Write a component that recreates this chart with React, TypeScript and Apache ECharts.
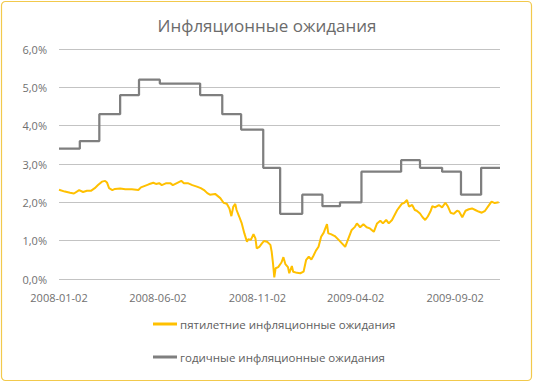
import React, { useEffect, useRef } from "react";
import * as echarts from "echarts";

const TITLE = "Инфляционные ожидания";
const START_DATE = "2008-01-02";
const END_DATE = "2009-11-10";
const xTickLabels = ["2008-01-02", "2008-06-02", "2008-11-02", "2009-04-02", "2009-09-02"];
const yTicks = [0, 1, 2, 3, 4, 5, 6];

const fiveYearName = "пятилетние инфляционные ожидания";
const oneYearName = "годичные инфляционные ожидания";

// Five-year inflation expectations (%)
const fiveYearDates = [
  "2008-01-02", "2008-01-11", "2008-01-19", "2008-01-25", "2008-02-02", "2008-02-08", "2008-02-14", "2008-02-20",
  "2008-02-26", "2008-03-02", "2008-03-08", "2008-03-13", "2008-03-16", "2008-03-19", "2008-03-24", "2008-03-28",
  "2008-04-05", "2008-04-13", "2008-04-23", "2008-05-03", "2008-05-07", "2008-05-13", "2008-05-19", "2008-05-26",
  "2008-05-30", "2008-06-04", "2008-06-08", "2008-06-15", "2008-06-21", "2008-06-25", "2008-07-02", "2008-07-08",
  "2008-07-12", "2008-07-18", "2008-07-25", "2008-08-01", "2008-08-07", "2008-08-12", "2008-08-17", "2008-08-21",
  "2008-08-29", "2008-09-06", "2008-09-11", "2008-09-16", "2008-09-20", "2008-09-23", "2008-09-26", "2008-09-29",
  "2008-10-01", "2008-10-05", "2008-10-09", "2008-10-13", "2008-10-17", "2008-10-19", "2008-10-23", "2008-10-27",
  "2008-10-30", "2008-11-01", "2008-11-05", "2008-11-09", "2008-11-12", "2008-11-17", "2008-11-22", "2008-11-24",
  "2008-11-26", "2008-11-28", "2008-11-30", "2008-12-04", "2008-12-09", "2008-12-12", "2008-12-15", "2008-12-19",
  "2008-12-21", "2008-12-25", "2008-12-27", "2009-01-02", "2009-01-07", "2009-01-12", "2009-01-16", "2009-01-20",
  "2009-01-24", "2009-01-27", "2009-01-31", "2009-02-04", "2009-02-08", "2009-02-12", "2009-02-14", "2009-02-17",
  "2009-02-19", "2009-02-23", "2009-03-01", "2009-03-07", "2009-03-12", "2009-03-17", "2009-03-22", "2009-03-27",
  "2009-04-01", "2009-04-04", "2009-04-09", "2009-04-14", "2009-04-19", "2009-04-24", "2009-04-30", "2009-05-05",
  "2009-05-10", "2009-05-14", "2009-05-19", "2009-05-23", "2009-05-28", "2009-06-01", "2009-06-05", "2009-06-08",
  "2009-06-12", "2009-06-16", "2009-06-20", "2009-06-23", "2009-06-28", "2009-07-02", "2009-07-05", "2009-07-10",
  "2009-07-14", "2009-07-18", "2009-07-22", "2009-07-26", "2009-07-29", "2009-08-02", "2009-08-08", "2009-08-13",
  "2009-08-18", "2009-08-22", "2009-08-26", "2009-08-31", "2009-09-05", "2009-09-08", "2009-09-13", "2009-09-18",
  "2009-09-23", "2009-09-28", "2009-10-03", "2009-10-08", "2009-10-13", "2009-10-18", "2009-10-23", "2009-10-28",
  "2009-11-02", "2009-11-08",
];
const fiveYearValues = [
  2.33, 2.28, 2.25, 2.23, 2.32, 2.27, 2.30, 2.30,
  2.37, 2.45, 2.54, 2.56, 2.51, 2.37, 2.32, 2.35,
  2.36, 2.34, 2.34, 2.32, 2.39, 2.43, 2.47, 2.51,
  2.48, 2.50, 2.45, 2.50, 2.50, 2.45, 2.51, 2.56,
  2.50, 2.50, 2.45, 2.41, 2.37, 2.32, 2.24, 2.20,
  2.22, 2.11, 1.99, 1.96, 1.84, 1.64, 1.89, 1.96,
  1.80, 1.63, 1.45, 1.19, 0.97, 1.04, 1.02, 1.17,
  1.06, 0.80, 0.84, 0.93, 0.99, 0.97, 0.89, 0.71,
  0.41, 0.04, 0.28, 0.31, 0.43, 0.57, 0.39, 0.31,
  0.15, 0.34, 0.19, 0.16, 0.15, 0.19, 0.50, 0.58,
  0.51, 0.60, 0.74, 0.84, 1.10, 1.21, 1.30, 1.43,
  1.19, 1.17, 1.12, 1.02, 0.93, 0.84, 1.06, 1.28,
  1.36, 1.45, 1.35, 1.43, 1.35, 1.32, 1.23, 1.45,
  1.52, 1.45, 1.54, 1.45, 1.54, 1.67, 1.80, 1.87,
  1.96, 1.99, 2.06, 1.89, 1.93, 1.80, 1.78, 1.71,
  1.61, 1.54, 1.63, 1.76, 1.90, 1.87, 1.93, 1.87,
  1.99, 1.89, 1.73, 1.70, 1.78, 1.76, 1.61, 1.78,
  1.82, 1.84, 1.80, 1.76, 1.73, 1.78, 1.90, 2.02,
  1.98, 2.00,
];

// One-year inflation expectations (%): dates where the level changes
const oneYearDates = [
  "2008-01-02", "2008-02-03", "2008-03-04", "2008-04-05", "2008-05-04", "2008-06-05", "2008-08-06",
  "2008-09-09", "2008-10-08", "2008-11-11", "2008-12-07", "2009-01-10", "2009-02-10", "2009-03-09",
  "2009-04-11", "2009-06-11", "2009-07-10", "2009-08-13", "2009-09-11", "2009-10-12", "2009-11-10",
];
const oneYearValues = [
  3.4, 3.6, 4.3, 4.8, 5.2, 5.1, 4.8,
  4.3, 3.9, 2.9, 1.7, 2.2, 1.9, 2.0,
  2.8, 3.1, 2.9, 2.8, 2.2, 2.9, 2.9,
];

function buildCalendar(start: string, end: string): string[] {
  const out: string[] = [];
  const d = new Date(start + "T00:00:00Z");
  const e = new Date(end + "T00:00:00Z");
  while (d.getTime() <= e.getTime()) {
    out.push(d.toISOString().slice(0, 10));
    d.setUTCDate(d.getUTCDate() + 1);
  }
  return out;
}

export default function App() {
  const ref = useRef<HTMLDivElement>(null);
  useEffect(() => {
    if (!ref.current) return;
    const chart = echarts.init(ref.current, undefined, { renderer: "svg" });
    const categories = buildCalendar(START_DATE, END_DATE);
    const font = "'Open Sans', 'Noto Sans', sans-serif";
    const legendBase = {
      orient: "horizontal",
      left: 148,
      itemWidth: 24,
      itemHeight: 3,
      itemGap: 10,
      icon: "rect",
      textStyle: { fontFamily: font, fontSize: 11.5, color: "#606060", padding: [0, 0, 0, -2] },
    };
    chart.setOption({
      animation: false,
      backgroundColor: "#ffffff",
      title: {
        text: TITLE,
        left: "center",
        top: 12,
        textStyle: { fontFamily: font, fontSize: 17, fontWeight: "normal", color: "#6b6b6b" },
      },
      graphic: [
        {
          type: "rect",
          shape: { x: 1.5, y: 1.5, width: 530, height: 379, r: 4 },
          style: { fill: "none", stroke: "#F2C94C", lineWidth: 1.2 },
          silent: true,
        },
      ],
      legend: [
        { ...legendBase, top: 313, data: [fiveYearName] },
        { ...legendBase, top: 346, data: [oneYearName] },
      ],
      grid: { left: 59, right: 34, top: 49, bottom: 104 },
      xAxis: {
        type: "category",
        data: categories,
        boundaryGap: false,
        axisLine: { show: false },
        axisTick: { show: false },
        splitLine: { show: false },
        axisLabel: {
          interval: (_i: number, v: string) => xTickLabels.includes(v),
          margin: 13,
          fontFamily: font,
          fontSize: 11,
          color: "#707070",
          showMinLabel: true,
          hideOverlap: false,
        },
      },
      yAxis: {
        type: "value",
        min: yTicks[0],
        max: yTicks[yTicks.length - 1],
        interval: 1,
        axisLine: { show: false },
        axisTick: { show: false },
        splitLine: { lineStyle: { color: "#C3C3C3", width: 1 } },
        axisLabel: {
          margin: 12,
          fontFamily: font,
          fontSize: 11,
          color: "#707070",
          formatter: (v: number) => v.toFixed(1).replace(".", ",") + "%",
        },
      },
      series: [
        {
          name: fiveYearName,
          type: "line",
          symbol: "none",
          data: fiveYearDates.map((d, i) => [d, fiveYearValues[i]]),
          lineStyle: { color: "#FFC000", width: 2 },
          itemStyle: { color: "#FFC000" },
          z: 2,
        },
        {
          name: oneYearName,
          type: "line",
          symbol: "none",
          step: "end",
          data: oneYearDates.map((d, i) => [d, oneYearValues[i]]),
          lineStyle: { color: "#7F7F7F", width: 2.25 },
          itemStyle: { color: "#7F7F7F" },
          z: 3,
        },
      ],
    });
    return () => chart.dispose();
  }, []);
  return (
    <div
      ref={ref}
      style={{ position: "fixed", left: 0, top: 0, width: 534, height: 383 }}
    />
  );
}
